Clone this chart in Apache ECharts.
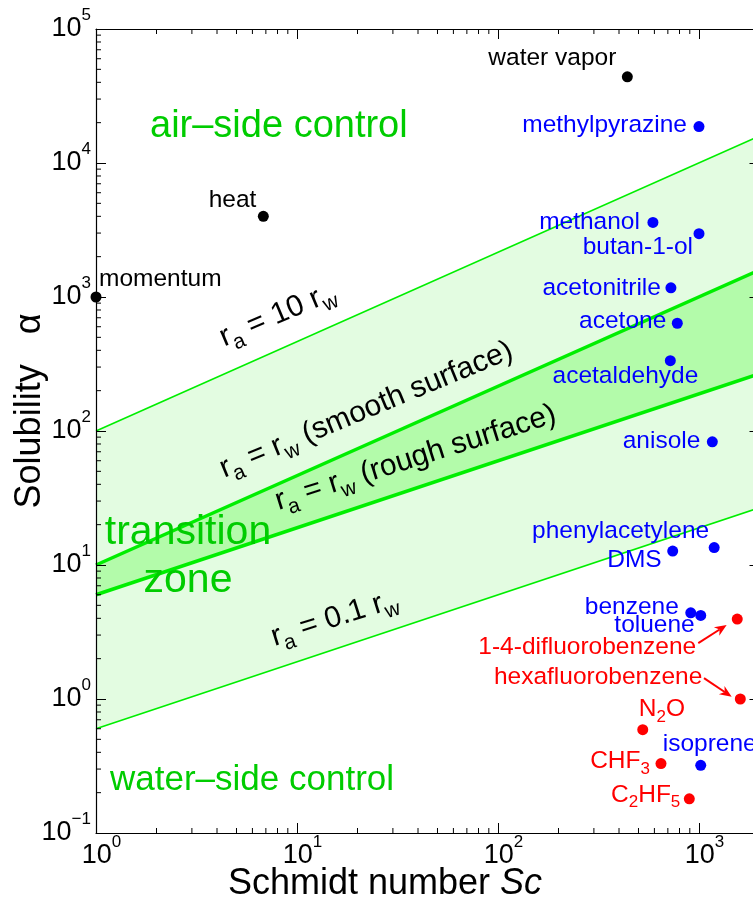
<!DOCTYPE html>
<html>
<head>
<meta charset="utf-8">
<script src="https://cdn.jsdelivr.net/npm/echarts@6/dist/echarts.min.js"></script>
<style>
  html, body { margin: 0; padding: 0; background: #ffffff; }
  #chart { width: 753px; height: 908px; }
</style>
</head>
<body>
<div id="chart"></div>
<script>
// Axis ranges (log10 scales)
const xRange = [1, 2000];
const yRange = [0.1, 100000];

// Resistance-ratio lines, given at Sc = 1 and Sc = 2000
const lineSc = [1, 2000];
const ra10rw = [100, 15900];
const raRwSmooth = [10, 1590];
const raRwRough = [6, 268];
const ra01rw = [0.6, 26.8];

// Transport tracers (black)
const tracerNames = ['momentum', 'heat', 'water vapor'];
const tracerSc = [1, 6.8, 440];
const tracerAlpha = [1000, 4000, 44000];

// Gases (blue)
const blueNames = ['methylpyrazine', 'methanol', 'butan-1-ol', 'acetonitrile', 'acetone',
  'acetaldehyde', 'anisole', 'phenylacetylene', 'DMS', 'benzene', 'toluene', 'isoprene'];
const blueSc = [1000, 590, 1000, 725, 780, 720, 1165, 1190, 740, 910, 1020, 1020];
const blueAlpha = [18700, 3600, 2970, 1170, 637, 335, 83, 13.5, 12.7, 4.4, 4.2, 0.32];

// Gases (red)
const redNames = ['1-4-difluorobenzene', 'hexafluorobenzene', 'N2O', 'CHF3', 'C2HF5'];
const redSc = [1550, 1605, 525, 647, 895];
const redAlpha = [3.95, 1.0, 0.59, 0.33, 0.18];

// Pointer arrows from two red labels to their points
const arrowFromSc = [992, 1059];
const arrowFromAlpha = [2.61, 1.43];
const arrowToSc = [1373, 1454];
const arrowToAlpha = [3.57, 1.04];

// Rich-text forms of chemical formulas
const formulaText = {
  'N2O': 'N{sub|2}O',
  'CHF3': 'CHF{sub|3}',
  'C2HF5': 'C{sub|2}HF{sub|5}'
};

// Label placement around each point: side, horizontal end offset, vertical offset (px)
const labelPlace = {
  'momentum': ['right', 3, -18],
  'heat': ['left', -7, -16],
  'water vapor': ['left', -11, -19],
  'methylpyrazine': ['left', -12, -1],
  'methanol': ['left', -13, 0],
  'butan-1-ol': ['left', -6, 14],
  'acetonitrile': ['left', -10, 0],
  'acetone': ['left', -11, -2],
  'acetaldehyde': ['left', 28, 16],
  'anisole': ['left', -12, -1],
  'phenylacetylene': ['left', -5, -16],
  'DMS': ['left', -11, 9],
  'benzene': ['left', -12, -6],
  'toluene': ['left', -6, 10],
  'isoprene': ['right', -38, -21],
  '1-4-difluorobenzene': ['left', -41, 28],
  'hexafluorobenzene': ['left', -38, -22],
  'N2O': ['right', -4, -20],
  'CHF3': ['left', -11, -2],
  'C2HF5': ['left', -9, -4]
};

const FONT = "'Liberation Sans', Arial, Helvetica, sans-serif";
const GREEN_LINE = '#00ee00';
const GREEN_TEXT = '#00cc00';
const FILL_LIGHT = '#e3fce1';
const FILL_DARK = '#b3fbaa';
const DOT = 11;

function pointData(names, scs, alphas, color) {
  return names.map(function (n, i) {
    const p = labelPlace[n];
    const half = DOT / 2;
    const offset = p[0] === 'left' ? [p[1] + half, p[2]] : [p[1] - half, p[2]];
    return {
      name: n,
      value: [scs[i], alphas[i]],
      label: {
        show: true,
        position: p[0],
        distance: 0,
        offset: offset,
        formatter: formulaText[n] || n,
        color: color,
        fontSize: 24.5,
        lineHeight: 30,
        fontFamily: FONT,
        rich: {
          sub: { fontSize: 17, lineHeight: 30, fontFamily: FONT, color: color, padding: [16, 0, 0, 0] }
        }
      }
    };
  });
}

function powLabel(v, pad) {
  const lg = Math.log10(v);
  const e = Math.round(lg);
  if (Math.abs(lg - e) > 1e-6) return '';
  const ex = e < 0 ? '\u2212' + (-e) : String(e);
  return (pad ? '{p| }' : '') + '{b|10}{s|' + ex + '}';
}

const powRich = {
  p: { width: 11, fontSize: 16, lineHeight: 32 },
  b: { fontSize: 27, lineHeight: 32, fontFamily: FONT, color: '#000' },
  s: { fontSize: 17, lineHeight: 32, fontFamily: FONT, color: '#000', padding: [0, 0, 27, 0] }
};

const axisCommon = {
  type: 'log',
  logBase: 10,
  z: 5,
  splitLine: { show: false },
  axisLine: { show: true, lineStyle: { color: '#000', width: 1.2 } },
  axisTick: { show: true, inside: true, length: 10, lineStyle: { color: '#000', width: 1 } },
  minorTick: { show: false }
};

const chart = echarts.init(document.getElementById('chart'), null, { renderer: 'canvas' });

// Minor ticks at 2..9 x 10^k on all four sides
function renderMinorTicks(params, api) {
  const kids = [];
  const x0 = api.coord([xRange[0], yRange[0]]);
  const x1 = api.coord([xRange[1], yRange[1]]);
  const left = x0[0], bottom = x0[1], right = x1[0], top = x1[1];
  const L = 5;
  const st = { stroke: '#000', lineWidth: 1 };
  for (let e = -1; e < 6; e++) {
    for (let m = 2; m <= 9; m++) {
      const v = m * Math.pow(10, e);
      if (v < xRange[0] || v > xRange[1]) continue;
      const x = api.coord([v, yRange[0]])[0];
      kids.push({ type: 'line', shape: { x1: x, y1: bottom, x2: x, y2: bottom - L }, style: st });
      kids.push({ type: 'line', shape: { x1: x, y1: top, x2: x, y2: top + L }, style: st });
    }
    for (let m = 2; m <= 9; m++) {
      const v = m * Math.pow(10, e);
      if (v < yRange[0] || v > yRange[1]) continue;
      const y = api.coord([xRange[0], v])[1];
      kids.push({ type: 'line', shape: { x1: left, y1: y, x2: left + L, y2: y }, style: st });
      kids.push({ type: 'line', shape: { x1: right, y1: y, x2: right - L, y2: y }, style: st });
    }
  }
  return { type: 'group', children: kids };
}

function renderBands(params, api) {
  function poly(lo, hi, fill) {
    return {
      type: 'polygon',
      shape: { points: [
        api.coord([lineSc[0], lo[0]]), api.coord([lineSc[1], lo[1]]),
        api.coord([lineSc[1], hi[1]]), api.coord([lineSc[0], hi[0]])
      ] },
      style: { fill: fill }
    };
  }
  return { type: 'group', children: [poly(ra01rw, ra10rw, FILL_LIGHT), poly(raRwRough, raRwSmooth, FILL_DARK)] };
}

function renderArrows(params, api) {
  const kids = [];
  for (let i = 0; i < arrowFromSc.length; i++) {
    const a = api.coord([arrowFromSc[i], arrowFromAlpha[i]]);
    const b = api.coord([arrowToSc[i], arrowToAlpha[i]]);
    const dx = b[0] - a[0], dy = b[1] - a[1];
    const len = Math.sqrt(dx * dx + dy * dy);
    const ux = dx / len, uy = dy / len, nx = -uy, ny = ux;
    const hl = 12, hw = 5;
    const base = [b[0] - ux * hl, b[1] - uy * hl];
    const back = [b[0] - ux * hl * 0.7, b[1] - uy * hl * 0.7];
    kids.push({ type: 'line', shape: { x1: a[0], y1: a[1], x2: back[0], y2: back[1] },
      style: { stroke: '#ff0000', lineWidth: 2 } });
    kids.push({ type: 'polygon', shape: { points: [
      b, [base[0] + nx * hw, base[1] + ny * hw], back, [base[0] - nx * hw, base[1] - ny * hw]
    ] }, style: { fill: '#ff0000' } });
  }
  return { type: 'group', children: kids };
}

function refLine(vals, width) {
  return {
    type: 'line',
    data: [[lineSc[0], vals[0]], [lineSc[1], vals[1]]],
    showSymbol: false,
    symbol: 'none',
    silent: true,
    z: 3,
    lineStyle: { color: GREEN_LINE, width: width },
    animation: false
  };
}

const subRich = { sub: { fontSize: 21, lineHeight: 36, fontFamily: FONT, color: '#000', padding: [20, 0, 0, 0] } };
function bandText(text, x, y, deg) {
  return {
    type: 'text', x: x, y: y, rotation: deg * Math.PI / 180, z: 20,
    style: { text: text, fill: '#000', fontSize: 30, lineHeight: 36, fontFamily: FONT,
      align: 'left', verticalAlign: 'middle', rich: subRich }
  };
}
function zoneText(text, x, y, size, align) {
  return {
    type: 'text', x: x, y: y, z: 20,
    style: { text: text, fill: GREEN_TEXT, fontSize: size, lineHeight: 48, fontFamily: FONT,
      align: align, verticalAlign: 'middle' }
  };
}

const option = {
  animation: false,
  backgroundColor: '#ffffff',
  grid: { left: 96, right: -6.5, top: 29, bottom: 75, containLabel: false, outerBoundsMode: 'none' },
  xAxis: [
    Object.assign({}, axisCommon, {
      position: 'bottom', min: xRange[0], max: xRange[1],
      axisLabel: { show: true, margin: 7, formatter: function (v) { return powLabel(v, true); }, rich: powRich }
    }),
    Object.assign({}, axisCommon, {
      position: 'top', min: xRange[0], max: xRange[1], axisLabel: { show: false }
    })
  ],
  yAxis: [
    Object.assign({}, axisCommon, {
      position: 'left', min: yRange[0], max: yRange[1],
      axisLabel: { show: true, margin: 5, formatter: function (v) { return powLabel(v, false); }, rich: powRich }
    }),
    Object.assign({}, axisCommon, {
      position: 'right', min: yRange[0], max: yRange[1], axisLabel: { show: false }
    })
  ],
  graphic: [
    zoneText('air\u2013side control', 150, 127, 38, 'left'),
    zoneText('transition\nzone', 188, 557, 41, 'center'),
    zoneText('water\u2013side control', 110, 780, 35, 'left'),
    bandText('r{sub|a} = 10 r{sub|w}', 221, 339, 23),
    bandText('r{sub|a} = r{sub|w} (smooth surface)', 221, 470, 22.5),
    bandText('r{sub|a} = r{sub|w} (rough surface)', 276, 502, 17.5),
    bandText('r{sub|a} = 0.1 r{sub|w}', 272, 638, 17.5),
    {
      type: 'text', x: 385, y: 884, z: 20,
      style: { text: 'Schmidt number {i|Sc}', fill: '#000', fontSize: 36, lineHeight: 40, fontFamily: FONT,
        align: 'center', verticalAlign: 'middle',
        rich: { i: { fontSize: 36, lineHeight: 40, fontFamily: FONT, fontStyle: 'italic', color: '#000' } } }
    },
    {
      type: 'text', x: 30, y: 411, rotation: Math.PI / 2, z: 20,
      style: { text: 'Solubility{a|\u03b1}', fill: '#000', fontSize: 36, lineHeight: 40, fontFamily: FONT,
        align: 'center', verticalAlign: 'middle',
        rich: { a: { fontSize: 36, lineHeight: 40, fontFamily: FONT, color: '#000', padding: [0, 0, 0, 30] } } }
    }
  ],
  series: [
    { type: 'custom', coordinateSystem: 'cartesian2d', z: 1, silent: true, clip: false,
      data: [[1, 1]], renderItem: renderBands },
    refLine(ra10rw, 1.6),
    refLine(raRwSmooth, 3.5),
    refLine(raRwRough, 3.5),
    refLine(ra01rw, 1.6),
    { type: 'custom', coordinateSystem: 'cartesian2d', z: 6, silent: true, clip: false,
      data: [[1, 1]], renderItem: renderMinorTicks },
    { type: 'custom', coordinateSystem: 'cartesian2d', z: 8, silent: true, clip: false,
      data: [[1, 1]], renderItem: renderArrows },
    { type: 'scatter', z: 10, symbol: 'circle', symbolSize: DOT, itemStyle: { color: '#000', opacity: 1 },
      data: pointData(tracerNames, tracerSc, tracerAlpha, '#000'), clip: false },
    { type: 'scatter', z: 10, symbol: 'circle', symbolSize: DOT, itemStyle: { color: '#0000ff', opacity: 1 },
      data: pointData(blueNames, blueSc, blueAlpha, '#0000ff'), clip: false },
    { type: 'scatter', z: 10, symbol: 'circle', symbolSize: DOT, itemStyle: { color: '#ff0000', opacity: 1 },
      data: pointData(redNames, redSc, redAlpha, '#ff0000'), clip: false }
  ]
};

chart.setOption(option);
</script>
</body>
</html>
